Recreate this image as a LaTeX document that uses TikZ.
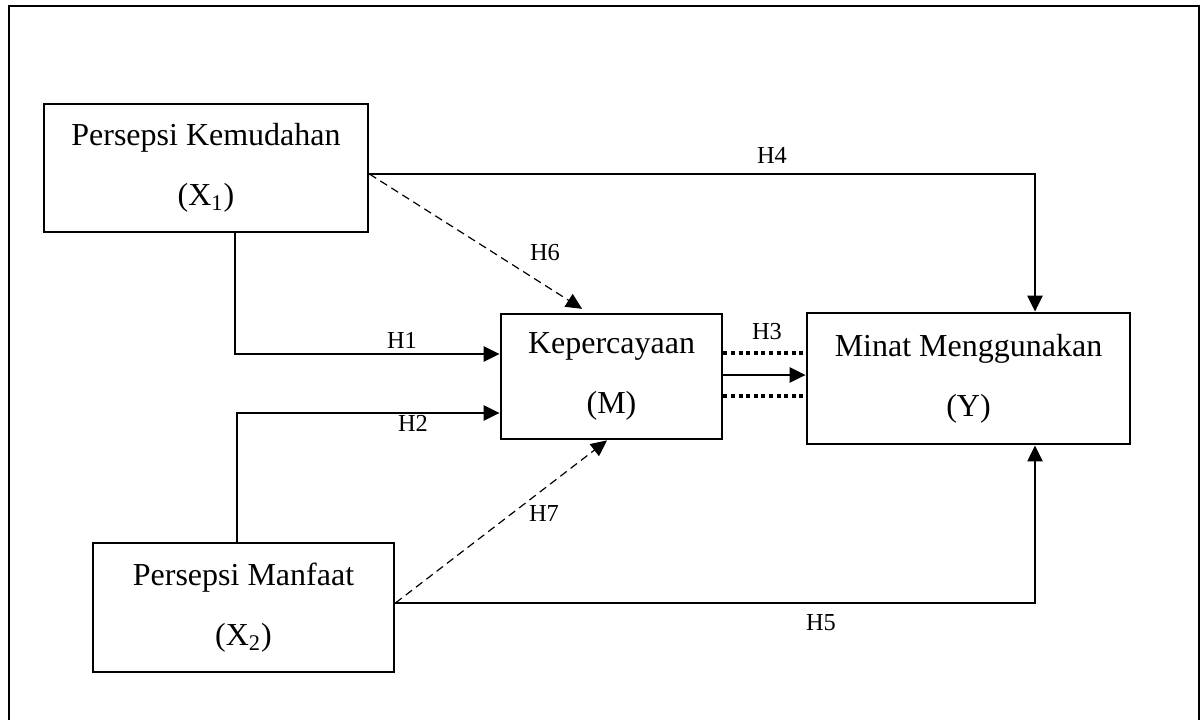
\documentclass[tikz,border=0pt]{standalone}
\usepackage{fontspec}
\setmainfont{Liberation Serif}
\usetikzlibrary{arrows.meta}
\begin{document}
\begin{tikzpicture}[x=0.5pt,y=-0.5pt,
 box/.style={draw,line width=1.4pt,rectangle,inner sep=0pt,align=center,font=\fontsize{16}{30}\selectfont},
 conn/.style={line width=1.2pt,-{Triangle[length=8pt,width=7.5pt]}},
 dconn/.style={line width=0.6pt,dash pattern=on 4pt off 2.5pt,-{Triangle[length=8pt,width=7.5pt]}},
 dotline/.style={line width=1.6pt,dash pattern=on 2pt off 1.8pt},
 lbl/.style={font=\fontsize{12.2}{14}\selectfont,inner sep=0pt}]
\useasboundingbox (0,0) rectangle (1202,719);
\draw[line width=1.4pt] (9,740) -- (9,6) -- (1199,6) -- (1199,740);
\node[box,minimum width=162pt,minimum height=64pt] (X1) at (206,168) {Persepsi Kemudahan\\(X\textsubscript{1})};
\node[box,minimum width=110.5pt,minimum height=62.5pt] (M) at (611.5,376.5) {Kepercayaan\\(M)};
\node[box,minimum width=161.5pt,minimum height=65.5pt] (Y) at (968.5,378.5) {Minat Menggunakan\\(Y)};
\node[box,minimum width=150.5pt,minimum height=64.5pt] (X2) at (243.5,607.5) {Persepsi Manfaat\\(X\textsubscript{2})};
% connectors
\draw[conn] (X1.east |- 0,174) -| (Y.north -| 1035,0);
\draw[dconn,shorten >=3.5pt] (X1.east |- 0,174) -- (M.north -| 588,0);
\draw[conn] (X1.south -| 235,0) |- (M.west |- 0,354);
\draw[conn] (X2.north -| 237,0) |- (M.west |- 0,413);
\draw[dconn] (X2.east |- 0,603) -- (M.south -| 607,0);
\draw[conn] (X2.east |- 0,603) -| (Y.south -| 1035,0);
\draw[conn] (M.east |- 0,375) -- (Y.west |- 0,375);
\draw[dotline] (M.east |- 0,353) -- (Y.west |- 0,353);
\draw[dotline] (M.east |- 0,396) -- (Y.west |- 0,396);
% labels
\node[lbl] (h4) at (772,155) {H4};
\node[lbl] (h6) at (545,253) {H6};
\node[lbl] (h1) at (402,340) {H1};
\node[lbl] (h2) at (413,423) {H2};
\node[lbl] (h3) at (767,332) {H3};
\node[lbl] (h7) at (544,513) {H7};
\node[lbl] (h5) at (821,623) {H5};
\end{tikzpicture}
\end{document}
